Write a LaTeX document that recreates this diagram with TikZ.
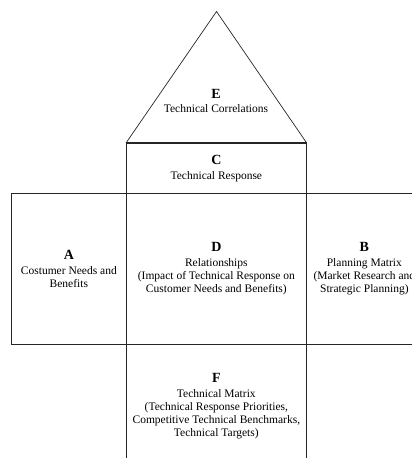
\documentclass[tikz,border=0pt]{standalone}
\usepackage{fontspec}
\setmainfont{Liberation Serif}
\newcommand{\regletter}[1]{{\fontsize{14}{13}\selectfont\bfseries #1}\\[1.5pt]}
\begin{document}
\begin{tikzpicture}[x=1pt,y=-1pt,
  line/.style={draw=black!85,line width=0.7pt},
  region/.style={line,rectangle,inner sep=0pt,anchor=north west,align=center,
    font=\fontsize{11.5}{13}\selectfont}]
\useasboundingbox (0,0) rectangle (412,458);
\clip (0,0) rectangle (412,458);
\node[region,minimum width=180pt,minimum height=50pt] (C) at (126,143)
  {\regletter{C}Technical Response};
\node[region,minimum width=115pt,minimum height=151pt] (A) at (11,193)
  {\regletter{A}Costumer Needs and\\Benefits};
\node[region,minimum width=180pt,minimum height=151pt] (D) at (126,193)
  {\regletter{D}Relationships\\(Impact of Technical Response on\\Customer Needs and Benefits)};
\node[region,minimum width=116pt,minimum height=151pt] (B) at (306,193)
  {\regletter{B}Planning Matrix\\(Market Research and\\Strategic Planning)};
\node[region,minimum width=180pt,minimum height=124pt] (F) at (126,344)
  {\regletter{F}Technical Matrix\\(Technical Response Priorities,\\Competitive Technical Benchmarks,\\Technical Targets)};
\coordinate (apex) at (216.5,11.5);
\draw[line] (C.north west) -- (apex) -- (C.north east);
\draw[draw=black!85,line width=1.5pt] (C.north west) -- (C.north east);
\node[align=center,inner sep=0pt,font=\fontsize{11.5}{13}\selectfont] (E) at (216,101)
  {\regletter{E}Technical Correlations};
\end{tikzpicture}
\end{document}
